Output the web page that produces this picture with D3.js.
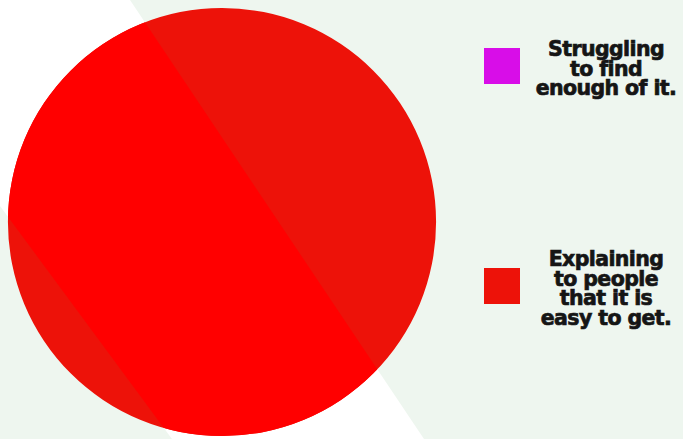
<!DOCTYPE html>
<html>
<head>
<meta charset="utf-8">
<script src="https://cdn.jsdelivr.net/npm/d3@7"></script>
<style>
body{margin:0;background:#eef6ef;}
svg{display:block;}
</style>
</head>
<body>
<svg></svg>
<script>
var categories=["Struggling to find enough of it.","Explaining to people that it is easy to get."];
var labelLines=[["Struggling","to find","enough of it."],["Explaining","to people","that it is","easy to get."]];
var values=[0,100];
var colors=["#d80de8","#ed1209"];

var width=683;
var height=439;

var svg=d3.select("svg")
.attr("width",width)
.attr("height",height);

// background: pale green with a white diagonal band
svg.append("rect")
.attr("width",width)
.attr("height",height)
.attr("fill","#eef6ef");

var band=[[0,0],[130,0],[424,height],[172,height],[0,206]];
var bandPath="M"+band.join("L")+"Z";

svg.append("path")
.attr("d",bandPath)
.attr("fill","#ffffff");

var data=categories.map(function(c,i){return {cat:c,value:values[i],color:colors[i]};});

var cx=222, cy=222, r=214;

var pie=d3.pie().sort(null).value(function(d){return d.value;});
var arc=d3.arc().innerRadius(0).outerRadius(r);

var g=svg.append("g").attr("transform","translate("+cx+","+cy+")");

g.selectAll("path.slice")
.data(pie(data).filter(function(d){return d.data.value>0;}))
.enter()
.append("path")
.attr("class","slice")
.attr("d",arc)
.attr("fill",function(d){return d.data.color;});

// the pie looks brighter where it sits over the white band
svg.append("clipPath")
.attr("id","pieclip")
.append("path")
.attr("transform","translate("+cx+","+cy+")")
.attr("d",arc(pie(data).filter(function(d){return d.data.value>0;})[0]));

svg.append("path")
.attr("d",bandPath)
.attr("fill","#ff0000")
.attr("clip-path","url(#pieclip)");

// legend
var legendY=d3.scalePoint().domain(categories).range([66,286]);

var leg=svg.selectAll("g.legend")
.data(data)
.enter()
.append("g")
.attr("class","legend")
.attr("transform",function(d){return "translate(0,"+legendY(d.cat)+")";});

leg.append("rect")
.attr("x",484)
.attr("y",-18)
.attr("width",36)
.attr("height",36)
.attr("fill",function(d){return d.color;});

leg.append("text")
.attr("text-anchor","middle")
.attr("font-family","DejaVu Sans")
.attr("font-weight","bold")
.attr("font-size",20.5)
.attr("fill","#151515")
.attr("stroke","#151515")
.attr("stroke-width",0.7)
.attr("letter-spacing",-0.6)
.each(function(d,i){
  var lines=labelLines[i];
  var lh=19.5;
  var y0=-((lines.length-1)*lh)/2+9.5;
  d3.select(this).selectAll("tspan")
  .data(lines)
  .enter()
  .append("tspan")
  .attr("x",606)
  .attr("y",function(t,j){return y0+j*lh;})
  .text(function(t){return t;});
});
</script>
</body>
</html>
